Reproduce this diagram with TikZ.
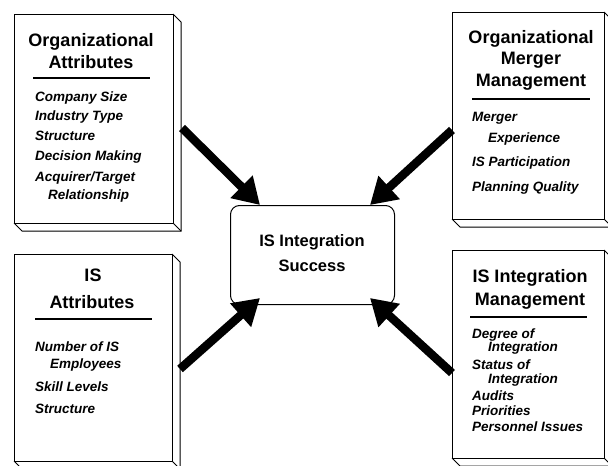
\documentclass[tikz,border=0pt]{standalone}
\usepackage{fontspec}
\setmainfont{Liberation Sans}
\usetikzlibrary{arrows.meta}
\newcommand\bookbox[5]{%
  \fill[white] (#1,#2) -- (#3,#2) -- ({#3+8},{#2+8}) -- ({#3+8},{#4+8}) -- ({#1+8},{#4+8}) -- (#1,#4) -- cycle;
  \draw[edge] (#3,#2) -- ({#3+8},{#2+8}) -- ({#3+8},{#4+8}) -- ({#1+8},{#4+8}) -- (#1,#4);
  \draw[edge] (#3,#4) -- ({#3+8},{#4+8});
  \node[edge, draw, fill=white, inner sep=0pt, anchor=north west,
        minimum width={(#3-#1)*1pt}, minimum height={(#4-#2)*1pt}] (#5) at (#1,#2) {};
}
\begin{document}
\begin{tikzpicture}[x=1pt,y=-1pt,
  edge/.style={line width=1pt, black},
  title/.style={font=\fontsize{18}{20}\selectfont\bfseries, inner sep=0pt, anchor=base},
  item/.style={font=\fontsize{13.5}{15}\selectfont\bfseries\itshape, inner sep=0pt, anchor=base west},
  rule/.style={line width=2pt},
  bigarrow/.style={line width=8.5pt, -{Triangle[length=26pt,width=30pt]}},
]
\useasboundingbox (0,0) rectangle (608,466);
\clip (0,0) rectangle (608,466);

% boxes
\bookbox{14}{14}{173}{223}{tl}
\bookbox{452}{12}{604}{219}{tr}
\bookbox{14}{254}{172}{461}{bl}
\bookbox{452}{250}{604}{458}{br}

% top-left box
\node[title] (tlt1) at (91,46) {Organizational};
\node[title] (tlt2) at (91,68) {Attributes};
\draw[rule] (33,78) -- (150,78);
\node[item] (tli1) at (35,101) {Company Size};
\node[item] (tli2) at (35,120) {Industry Type};
\node[item] (tli3) at (35,140) {Structure};
\node[item] (tli4) at (35,160) {Decision Making};
\node[item] (tli5) at (35,181) {Acquirer/Target};
\node[item] (tli6) at (48,199) {Relationship};

% top-right box
\node[title] (trt1) at (531,43) {Organizational};
\node[title] (trt2) at (531,64) {Merger};
\node[title] (trt3) at (531,86) {Management};
\draw[rule] (472,99) -- (590,99);
\node[item] (tri1) at (472,121) {Merger};
\node[item] (tri2) at (488,142) {Experience};
\node[item] (tri3) at (472,166) {IS Participation};
\node[item] (tri4) at (472,191) {Planning Quality};

% bottom-left box
\node[title] (blt1) at (93,281) {IS};
\node[title] (blt2) at (92,308) {Attributes};
\draw[rule] (35,319) -- (152,319);
\node[item] (bli1) at (35,351) {Number of IS};
\node[item] (bli2) at (50,368) {Employees};
\node[item] (bli3) at (35,391) {Skill Levels};
\node[item] (bli4) at (35,413) {Structure};

% bottom-right box
\node[title] (brt1) at (530,282) {IS Integration};
\node[title] (brt2) at (530,305) {Management};
\draw[rule] (470,317) -- (587,317);
\node[item] (bri1) at (472,338) {Degree of};
\node[item] (bri2) at (488,351) {Integration};
\node[item] (bri3) at (472,369) {Status of};
\node[item] (bri4) at (488,383) {Integration};
\node[item] (bri5) at (472,400) {Audits};
\node[item] (bri6) at (472,415) {Priorities};
\node[item] (bri7) at (472,431) {Personnel Issues};

% centre box
\node[edge, draw, fill=white, rounded corners=9pt, inner sep=0pt, anchor=north west,
      minimum width=164pt, minimum height=99pt] (succ) at (230,205) {};
\node[font=\fontsize{16.5}{18}\selectfont\bfseries, inner sep=0pt, anchor=base] (st1) at (312,246) {IS Integration};
\node[font=\fontsize{16.5}{18}\selectfont\bfseries, inner sep=0pt, anchor=base] (st2) at (312,271) {Success};

% arrows
\coordinate (s1) at (182,128);
\coordinate (e1) at (260,205);
\coordinate (s2) at (452,130);
\coordinate (e2) at (370,205);
\coordinate (s3) at (180,369);
\coordinate (e3) at (260,298);
\coordinate (s4) at (452,373);
\coordinate (e4) at (370,298);
\draw[bigarrow] (s1) -- (e1);
\draw[bigarrow] (s2) -- (e2);
\draw[bigarrow] (s3) -- (e3);
\draw[bigarrow] (s4) -- (e4);
\end{tikzpicture}
\end{document}
